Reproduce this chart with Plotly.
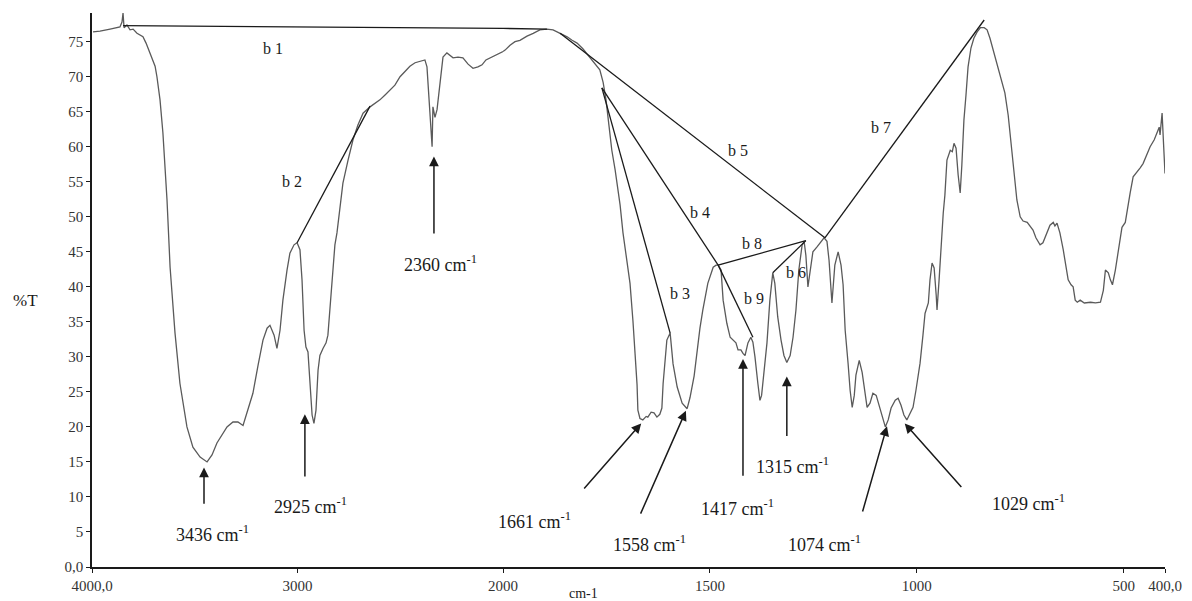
import plotly.graph_objects as go

# ---------------- data ----------------
wavenumber = [3995, 3961, 3912, 3864, 3854, 3849, 3844, 3830, 3815, 3800, 3781, 3766, 3752, 3737, 3723,
              3708, 3693, 3684, 3669, 3655, 3635, 3620, 3596, 3572, 3538, 3509, 3474, 3440, 3416, 3392,
              3367, 3343, 3314, 3290, 3265, 3241, 3217, 3192, 3168, 3148, 3134, 3114, 3100, 3085, 3071,
              3051, 3037, 3017, 3002, 2988, 2978, 2968, 2959, 2949, 2939, 2929, 2920, 2910, 2900, 2891,
              2876, 2861, 2852, 2842, 2832, 2818, 2808, 2793, 2779, 2754, 2730, 2706, 2681, 2647, 2623,
              2599, 2574, 2550, 2526, 2501, 2477, 2453, 2428, 2404, 2380, 2370, 2360, 2350, 2345, 2341,
              2331, 2321, 2307, 2292, 2273, 2258, 2243, 2219, 2195, 2170, 2146, 2122, 2102, 2083, 2063,
              2039, 2015, 2000, 1995, 1983, 1971, 1959, 1942, 1927, 1911, 1894, 1879, 1862, 1845, 1833,
              1821, 1807, 1790, 1778, 1766, 1758, 1751, 1744, 1737, 1729, 1724, 1717, 1710, 1700, 1693,
              1686, 1681, 1676, 1674, 1669, 1662, 1654, 1650, 1642, 1635, 1628, 1621, 1616, 1613, 1608,
              1604, 1596, 1589, 1579, 1567, 1555, 1548, 1538, 1531, 1524, 1517, 1505, 1492, 1485, 1480,
              1473, 1468, 1459, 1451, 1444, 1437, 1432, 1425, 1420, 1415, 1408, 1401, 1396, 1391, 1384,
              1379, 1375, 1370, 1362, 1355, 1350, 1348, 1343, 1336, 1328, 1321, 1314, 1306, 1299, 1292,
              1285, 1277, 1272, 1268, 1263, 1258, 1251, 1241, 1234, 1224, 1217, 1212, 1205, 1198, 1190,
              1183, 1178, 1173, 1166, 1161, 1156, 1151, 1147, 1139, 1132, 1125, 1120, 1113, 1106, 1098,
              1089, 1081, 1076, 1069, 1062, 1052, 1045, 1038, 1031, 1024, 1016, 1009, 1002, 992, 985,
              980, 972, 968, 963, 958, 953, 951, 946, 941, 936, 932, 927, 919, 914, 910,
              905, 900, 895, 891, 886, 881, 876, 869, 862, 854, 846, 837, 830, 823, 815,
              806, 799, 787, 779, 775, 767, 763, 758, 750, 743, 733, 726, 719, 712, 702,
              695, 685, 678, 670, 666, 661, 654, 646, 639, 634, 627, 622, 617, 612, 605,
              595, 580, 568, 556, 549, 544, 537, 532, 527, 520, 515, 509, 504, 496, 489,
              484, 477, 467, 460, 453, 445, 436, 426, 419, 414, 412, 409, 407, 404, 402, 400]
transmittance = [76.4, 76.5, 76.8, 77.1, 77.8, 79.1, 77.0, 77.4, 76.7, 76.8, 76.2, 76.0, 75.7, 74.8, 73.8,
                 72.8, 71.5, 70.0, 66.7, 62.0, 52.4, 42.8, 33.4, 26.2, 20.0, 17.1, 15.7, 15.0, 16.0, 17.7,
                 18.8, 20.0, 20.7, 20.7, 20.2, 22.4, 24.8, 28.8, 32.4, 34.1, 34.5, 33.1, 31.2, 33.8, 38.1,
                 42.4, 44.8, 46.0, 46.3, 45.3, 41.0, 33.8, 31.4, 30.7, 26.0, 21.7, 20.5, 22.4, 28.1, 30.2,
                 31.2, 32.0, 33.1, 36.7, 41.0, 46.0, 47.7, 51.3, 54.8, 58.1, 61.0, 63.1, 64.8, 65.7, 66.2,
                 66.7, 67.4, 68.1, 68.8, 70.0, 70.7, 71.5, 72.0, 72.2, 72.4, 71.4, 66.7, 61.0, 60.0, 65.7,
                 64.2, 65.3, 69.1, 72.8, 73.4, 73.1, 72.7, 72.8, 72.7, 71.8, 71.2, 71.4, 71.7, 72.4, 72.7,
                 73.1, 73.4, 73.6, 73.8, 74.5, 75.0, 75.2, 75.8, 76.2, 76.7, 76.8, 76.7, 76.2, 75.7, 75.2,
                 74.8, 74.0, 72.8, 72.0, 71.0, 69.2, 66.7, 63.1, 59.5, 56.7, 54.8, 51.7, 47.7, 43.8, 40.5,
                 35.2, 31.0, 26.0, 22.4, 21.2, 21.0, 21.5, 21.4, 22.1, 22.0, 21.4, 21.8, 22.7, 26.2, 30.2,
                 32.4, 33.4, 29.0, 25.7, 23.4, 22.6, 24.2, 27.3, 31.0, 34.1, 36.7, 40.5, 42.8, 43.1, 43.1,
                 42.4, 38.1, 34.8, 32.8, 32.4, 32.0, 31.0, 31.0, 30.5, 30.2, 32.0, 32.8, 32.1, 30.0, 26.2,
                 23.8, 24.5, 27.4, 32.0, 38.1, 41.3, 42.0, 40.5, 35.7, 32.4, 30.2, 29.2, 30.2, 32.8, 36.7,
                 42.4, 46.0, 46.4, 44.5, 40.0, 42.4, 45.0, 45.7, 46.3, 47.0, 46.5, 43.8, 37.7, 43.1, 45.0,
                 43.1, 40.3, 33.8, 29.1, 25.2, 22.8, 24.5, 27.4, 29.5, 27.8, 24.5, 22.8, 23.4, 24.8, 24.5,
                 22.8, 21.0, 20.0, 21.0, 22.7, 23.8, 24.1, 23.1, 21.7, 21.0, 22.0, 22.8, 25.2, 29.1, 33.1,
                 36.2, 37.7, 41.0, 43.4, 42.7, 38.8, 36.7, 41.0, 46.7, 50.5, 53.1, 58.1, 59.5, 59.3, 60.5,
                 59.8, 56.0, 53.4, 57.4, 63.8, 67.4, 71.4, 74.1, 75.5, 76.4, 77.0, 77.0, 76.7, 75.5, 73.8,
                 72.1, 70.5, 67.7, 64.5, 62.0, 58.1, 54.8, 52.4, 50.0, 49.4, 49.2, 48.6, 48.1, 47.0, 46.0,
                 46.3, 47.7, 48.8, 49.2, 48.7, 49.1, 47.7, 45.3, 43.1, 41.0, 40.3, 40.0, 38.1, 37.8, 38.1,
                 37.7, 37.8, 37.7, 37.8, 39.5, 42.4, 42.0, 41.0, 40.3, 42.4, 44.2, 46.7, 48.5, 49.2, 52.0,
                 53.5, 55.7, 56.4, 57.0, 57.6, 58.8, 60.0, 61.0, 62.0, 62.8, 61.7, 63.8, 64.8, 61.0, 58.1, 56.2]

# baselines b1..b9: wavenumbers and %T of their vertices
baseline_names = ["b1", "b2", "b3", "b4", "b5", "b6", "b7", "b8", "b9"]
baseline_wn = [[3849, 2000, 1894], [3002, 2647], [1761, 1596], [1761, 1480], [1862, 1222],
               [1348, 1268], [1222, 837], [1480, 1268], [1480, 1396]]
baseline_t = [[77.3, 76.9, 76.8], [46.3, 65.8], [68.4, 33.4], [68.4, 43.1], [76.2, 47.0],
              [42.0, 46.6], [47.0, 78.1], [43.1, 46.6], [43.1, 32.8]]

# baseline label texts and positions
label_text = ["b 1", "b 2", "b 3", "b 4", "b 5", "b 6", "b 7", "b 8", "b 9"]
label_wn = [3119, 3027, 1572, 1524, 1432, 1292, 1087, 1398, 1393]
label_t = [74.1, 55.0, 39.1, 50.6, 59.5, 42.0, 62.8, 46.2, 38.4]

# band arrows: tip, tail and label
band_names = ["3436", "2925", "2360", "1661", "1558", "1417", "1315", "1074", "1029"]
tip_wn = [3455, 2964, 2336, 1666, 1558, 1420, 1314, 1072, 1029]
tip_t = [14.2, 21.8, 58.6, 20.5, 22.3, 29.7, 27.2, 20.1, 20.5]
tail_wn = [3455, 2964, 2336, 1807, 1669, 1420, 1314, 1132, 889]
tail_t = [8.8, 12.7, 47.4, 11.0, 7.4, 12.8, 18.5, 7.7, 11.2]
text_wn = [3416, 2939, 2302, 1923, 1645, 1434, 1300, 1222, 731]
text_t = [4.8, 8.8, 43.4, 6.7, 3.4, 8.5, 14.5, 3.4, 9.2]

hi_ticks = [4000, 3000, 2000]
hi_ticktext = ["4000,0", "3000", "2000"]
lo_ticks = [1500, 1000, 500, 400]
lo_ticktext = ["1500", "1000", "500", "400,0"]
y_ticks = list(range(0, 80, 5))
y_ticktext = ["0,0"] + [str(v) for v in y_ticks[1:]]

BREAK = 2000
FONT = "Liberation Serif"
CURVE = "#5a5a5a"
INK = "#1a1a1a"


def split(xs, ys):
    hi = [(x, y) for x, y in zip(xs, ys) if x >= BREAK]
    lo = [(x, y) for x, y in zip(xs, ys) if x <= BREAK]
    return hi, lo


def ref(w):
    return "x" if w >= BREAK else "x2"


fig = go.Figure()


def add_poly(xs, ys, color, width):
    hi, lo = split(xs, ys)
    if len(hi) >= 2:
        fig.add_trace(go.Scatter(x=[p[0] for p in hi], y=[p[1] for p in hi], mode="lines",
                                 line=dict(color=color, width=width), xaxis="x", yaxis="y",
                                 showlegend=False, hoverinfo="skip"))
    if len(lo) >= 2:
        fig.add_trace(go.Scatter(x=[p[0] for p in lo], y=[p[1] for p in lo], mode="lines",
                                 line=dict(color=color, width=width), xaxis="x2", yaxis="y",
                                 showlegend=False, hoverinfo="skip"))


add_poly(wavenumber, transmittance, CURVE, 1.3)
for bx, bt in zip(baseline_wn, baseline_t):
    add_poly(bx, bt, INK, 1.3)

annotations = []
for txt, w, t in zip(label_text, label_wn, label_t):
    annotations.append(dict(x=w, y=t, xref=ref(w), yref="y", text=txt, showarrow=False,
                            font=dict(family=FONT, size=16, color=INK)))

for name, tw, tt, aw, at, xw, xt in zip(band_names, tip_wn, tip_t, tail_wn, tail_t, text_wn, text_t):
    r = ref(tw)
    annotations.append(dict(x=tw, y=tt, xref=r, yref="y", ax=aw, ay=at, axref=r, ayref="y",
                            text="", showarrow=True, arrowhead=2, arrowsize=1.3, arrowwidth=1.5,
                            arrowcolor=INK))
    annotations.append(dict(x=xw, y=xt, xref=ref(xw), yref="y",
                            text=f"{name} cm<sup>-1</sup>", showarrow=False,
                            font=dict(family=FONT, size=18, color=INK)))

annotations.append(dict(x=-0.0624, y=0.4817, xref="paper", yref="paper", text="%T", showarrow=False,
                        xanchor="center", yanchor="middle",
                        font=dict(family=FONT, size=17, color=INK)))
annotations.append(dict(x=0.4576, y=-0.0475, xref="paper", yref="paper", text="cm-1", showarrow=False,
                        xanchor="center", yanchor="middle",
                        font=dict(family=FONT, size=14, color=INK)))

split_frac = 411 / 1073
axis_common = dict(showgrid=False, zeroline=False, showline=True, linecolor=INK, linewidth=1.5,
                   ticks="outside", ticklen=4, tickcolor=INK, tickwidth=1, automargin=False,
                   tickfont=dict(family=FONT, size=15, color="#333"))

fig.update_layout(
    width=1192, height=601,
    margin=dict(l=92, r=27, t=13, b=34),
    paper_bgcolor="white", plot_bgcolor="white",
    xaxis=dict(domain=[0, split_frac], range=[4000, BREAK], anchor="y",
               tickvals=hi_ticks, ticktext=hi_ticktext, **axis_common),
    xaxis2=dict(domain=[split_frac, 1], range=[BREAK, 400], anchor="y",
                tickvals=lo_ticks, ticktext=lo_ticktext, **axis_common),
    yaxis=dict(range=[0, 79.1], anchor="x", tickvals=y_ticks, ticktext=y_ticktext, **axis_common),
    annotations=annotations,
    showlegend=False,
)

fig.write_html("out.html")
